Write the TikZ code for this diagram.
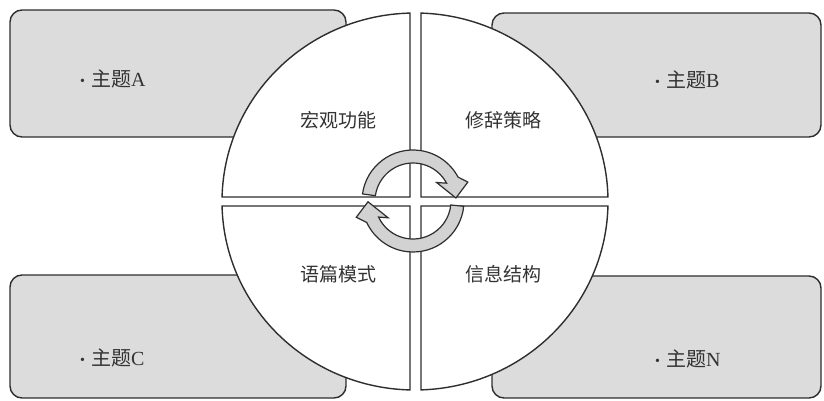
\documentclass[tikz,border=0pt]{standalone}
\usepackage{fontspec}
\usetikzlibrary{calc}
\setmainfont{Liberation Serif}
\newfontfamily\cjk{Noto Sans CJK SC}
\definecolor{linec}{HTML}{2E2E2E}
\definecolor{boxfill}{HTML}{DCDCDC}
\definecolor{arrfill}{HTML}{D2D2D2}
\definecolor{txt}{HTML}{333333}
\newcommand{\bul}{{\fontsize{14}{14}\selectfont\raisebox{1.5pt}{•}}\hspace{6pt}}
\begin{document}
\begin{tikzpicture}[x=1pt,y=-1pt,
  topicbox/.style={draw=linec, line width=1.4pt, fill=boxfill, rounded corners=12pt},
  quad/.style={draw=linec, line width=1.4pt, fill=white},
  cyc/.style={draw=linec, line width=1.2pt, fill=arrfill, line join=miter},
  label/.style={text=txt, font=\fontsize{19}{22}\selectfont\cjk, inner sep=0pt},
  topic/.style={text=txt, font=\fontsize{20}{22}\selectfont, inner sep=0pt, anchor=west}]
\useasboundingbox (0,0) rectangle (824,401);
% topic boxes
\draw[topicbox] (10,10) rectangle (346,137);
\draw[topicbox] (492,13) rectangle (821,137);
\draw[topicbox] (10,275) rectangle (346,398);
\draw[topicbox] (492,276) rectangle (821,398);
% circle quadrants
\draw[quad] (410,197) -- (222.06,197) arc[start angle=181.37, end angle=268.52, x radius=193, y radius=188.5] -- cycle;
\draw[quad] (421,197) -- (421,13.09) arc[start angle=271.78, end angle=358.63, x radius=193, y radius=188.5] -- cycle;
\draw[quad] (410,206) -- (410,389.94) arc[start angle=91.48, end angle=178.63, x radius=193, y radius=188.5] -- cycle;
\draw[quad] (421,206) -- (607.94,206) arc[start angle=1.37, end angle=88.22, x radius=193, y radius=188.5] -- cycle;
% cycle arrows
\coordinate (c) at (413,201);
\draw[cyc] ($(c)+(188:51)$) arc[start angle=188, end angle=332, radius=51]
  -- ($(c)+(341:58)$) -- ($(c)+(356:43)$) -- ($(c)+(322:30)$) -- ($(c)+(332:38)$)
  arc[start angle=332, end angle=188, radius=38] -- cycle;
\draw[cyc] ($(c)+(6:51)$) arc[start angle=6, end angle=155, radius=51]
  -- ($(c)+(164:59)$) -- ($(c)+(179:45)$) -- ($(c)+(146:30)$) -- ($(c)+(155:38)$)
  arc[start angle=155, end angle=6, radius=38] -- cycle;
% quadrant labels
\node[label] (q1) at (338,120) {宏观功能};
\node[label] (q2) at (503,120) {修辞策略};
\node[label] (q3) at (338,274) {语篇模式};
\node[label] (q4) at (503,274) {信息结构};
% topic labels
\node[topic] (tA) at (80,79) {\bul{\cjk 主题}A};
\node[topic] (tB) at (655,80) {\bul{\cjk 主题}B};
\node[topic] (tC) at (80,358) {\bul{\cjk 主题}C};
\node[topic] (tN) at (655,359) {\bul{\cjk 主题}N};
\end{tikzpicture}
\end{document}
